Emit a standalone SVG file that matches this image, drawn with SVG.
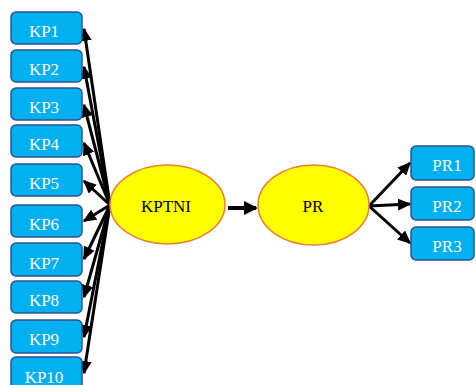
<svg xmlns="http://www.w3.org/2000/svg" width="476" height="385" viewBox="0 0 476 385">
<defs>
<style>
.box{fill:#00B0F0;stroke:#2F528F;stroke-width:1.5}
.bt{fill:#fff;font-family:"Liberation Serif",serif;font-size:17px;text-anchor:middle;dominant-baseline:central}
.el{fill:#FFFF00;stroke:#ED7D31;stroke-width:1.5}
.et{fill:#000;font-family:"Liberation Serif",serif;font-size:17px;text-anchor:middle;dominant-baseline:central}
.c{stroke:#000;stroke-width:3;fill:none;marker-end:url(#ah)}
.c2{stroke:#000;stroke-width:4;fill:none;marker-end:url(#ah2)}
</style>
<marker id="ah" markerWidth="4.5" markerHeight="4" refX="4" refY="2" orient="auto" markerUnits="strokeWidth">
<path d="M0,0 L4.5,2 L0,4 z" fill="#000"/>
</marker>
<marker id="ah2" markerWidth="3.5" markerHeight="3.5" refX="3" refY="1.75" orient="auto" markerUnits="strokeWidth">
<path d="M0,0 L3.5,1.75 L0,3.5 z" fill="#000"/>
</marker>
</defs>
<g id="connectors">
<line class="c" x1="110" y1="205" x2="84" y2="29"/>
<line class="c" x1="110" y1="205" x2="84" y2="67"/>
<line class="c" x1="110" y1="205" x2="84" y2="105"/>
<line class="c" x1="110" y1="205" x2="84" y2="143"/>
<line class="c" x1="110" y1="205" x2="84" y2="181"/>
<line class="c" x1="110" y1="205" x2="84" y2="221"/>
<line class="c" x1="110" y1="205" x2="84" y2="259"/>
<line class="c" x1="110" y1="205" x2="84" y2="297"/>
<line class="c" x1="110" y1="205" x2="84" y2="337"/>
<line class="c" x1="110" y1="205" x2="84" y2="373"/>
<line class="c2" x1="228" y1="208" x2="256" y2="208"/>
<line class="c" x1="369" y1="206" x2="410" y2="163"/>
<line class="c" x1="369" y1="206" x2="410" y2="204"/>
<line class="c" x1="369" y1="206" x2="410" y2="243"/>
</g>
<g id="KP1"><rect class="box" x="11" y="12" width="71" height="32" rx="5"/><text class="bt" x="44" y="31">KP1</text></g>
<g id="KP2"><rect class="box" x="11" y="50" width="71" height="32" rx="5"/><text class="bt" x="44" y="69">KP2</text></g>
<g id="KP3"><rect class="box" x="11" y="88" width="71" height="32" rx="5"/><text class="bt" x="44" y="107">KP3</text></g>
<g id="KP4"><rect class="box" x="11" y="125" width="71" height="32" rx="5"/><text class="bt" x="44" y="144">KP4</text></g>
<g id="KP5"><rect class="box" x="11" y="164" width="71" height="32" rx="5"/><text class="bt" x="44" y="183">KP5</text></g>
<g id="KP6"><rect class="box" x="11" y="205" width="71" height="32" rx="5"/><text class="bt" x="44" y="224">KP6</text></g>
<g id="KP7"><rect class="box" x="11" y="243" width="71" height="33" rx="5"/><text class="bt" x="44" y="263">KP7</text></g>
<g id="KP8"><rect class="box" x="11" y="281" width="71" height="32" rx="5"/><text class="bt" x="44" y="300">KP8</text></g>
<g id="KP9"><rect class="box" x="11" y="320" width="71" height="33" rx="5"/><text class="bt" x="44" y="339">KP9</text></g>
<g id="KP10"><rect class="box" x="11" y="357" width="71" height="33" rx="5"/><text class="bt" x="44" y="377">KP10</text></g>
<g id="KPTNI"><ellipse class="el" cx="167.5" cy="204.5" rx="57.5" ry="39.5"/><text class="et" x="166" y="206">KPTNI</text></g>
<g id="PR"><ellipse class="el" cx="313.5" cy="205" rx="55.5" ry="40"/><text class="et" x="313" y="206">PR</text></g>
<g id="PR1"><rect class="box" x="411" y="146" width="63" height="34" rx="5"/><text class="bt" x="447" y="165">PR1</text></g>
<g id="PR2"><rect class="box" x="411" y="187" width="63" height="33" rx="5"/><text class="bt" x="447" y="206">PR2</text></g>
<g id="PR3"><rect class="box" x="411" y="227" width="63" height="33" rx="5"/><text class="bt" x="447" y="246">PR3</text></g>
</svg>
